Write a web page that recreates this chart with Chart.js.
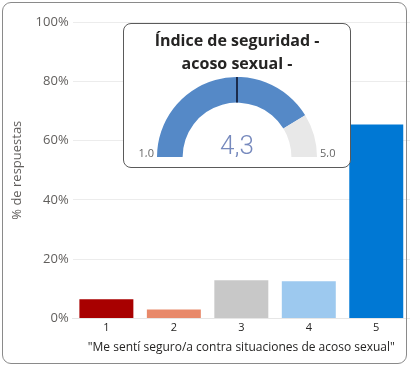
<!DOCTYPE html>
<html>
<head>
<meta charset="utf-8">
<script src="https://cdn.jsdelivr.net/npm/chart.js@4"></script>
<style>
    html, body { margin: 0; padding: 0; background: #fff; }
    #wrap { position: relative; width: 410px; height: 367px; }
    #frame {
        position: absolute; left: 2px; top: 2px; width: 403px; height: 360px;
        border: 1px solid #8a8a8a; border-radius: 9px; pointer-events: none;
    }
    #card {
        position: absolute; left: 123px; top: 23px; width: 226px; height: 143px;
        border: 1px solid #5a5a5a; border-radius: 8px; background: #fff;
    }
    #card-title {
        position: absolute; left: 0; top: 5px; width: 100%; text-align: center;
        font-family: "Open Sans", sans-serif; font-weight: bold; font-size: 16px;
        line-height: 23px; color: #252423;
    }
    #gauge-box { position: absolute; left: 0; top: 53px; width: 226px; height: 80px; }
</style>
</head>
<body>
<div id="wrap">
    <canvas id="barChart" width="410" height="367"></canvas>
    <div id="card">
        <div id="card-title">Índice de seguridad -<br>acoso sexual -</div>
        <div id="gauge-box"><canvas id="gaugeChart"></canvas></div>
    </div>
    <div id="frame"></div>
</div>
<script>
const categories = ['1', '2', '3', '4', '5'];
const responseShare = [6.5, 3.0, 12.9, 12.5, 65.4];
const barColors = ['#a80000', '#e8896a', '#c8c8c8', '#9dc9ef', '#0078d4'];
const yTicks = [0, 20, 40, 60, 80, 100];

const gaugeRange = [1, 5];
const gaugeValue = 4.3;
const gaugeNeedle = 3.0;
const gaugeColors = ['#5589c7', '#e8e8e8'];

const fmt = v => v.toFixed(1).replace('.', ',');

new Chart(document.getElementById('barChart').getContext('2d'), {
    type: 'bar',
    data: {
        labels: categories,
        datasets: [{
            data: responseShare,
            backgroundColor: barColors,
            borderWidth: 0,
            categoryPercentage: 0.8,
            barPercentage: 1
        }]
    },
    options: {
        responsive: false,
        animation: false,
        layout: { padding: { top: 22, right: 0, left: 9, bottom: 12 } },
        plugins: { legend: { display: false }, tooltip: { enabled: false } },
        scales: {
            x: {
                grid: { display: false, drawTicks: false },
                border: { color: '#e6e6e6' },
                ticks: { color: '#252423', font: { family: 'Open Sans', size: 11 }, padding: 3 },
                title: {
                    display: true,
                    text: '"Me sentí seguro/a contra situaciones de acoso sexual"',
                    color: '#252423',
                    font: { family: 'Open Sans', size: 12 },
                    padding: { top: 3, bottom: 0 }
                }
            },
            y: {
                min: 0,
                max: 100,
                afterBuildTicks: axis => { axis.ticks = yTicks.map(v => ({ value: v })); },
                grid: { color: '#ececec', drawTicks: false },
                border: { display: false },
                ticks: {
                    color: '#605e5c',
                    font: { family: 'Open Sans', size: 13 },
                    padding: 4,
                    callback: v => v + '%'
                },
                title: {
                    display: true,
                    text: '% de respuestas',
                    color: '#605e5c',
                    font: { family: 'Open Sans', size: 13 },
                    padding: { top: 0, bottom: 7 }
                }
            }
        }
    }
});

const gaugeText = {
    id: 'gaugeText',
    afterDatasetsDraw(chart) {
        const arc = chart.getDatasetMeta(0).data[0];
        const { x, y, outerRadius, innerRadius } = arc;
        const ctx = chart.ctx;
        // needle
        const frac = (gaugeNeedle - gaugeRange[0]) / (gaugeRange[1] - gaugeRange[0]);
        const ang = Math.PI + frac * Math.PI;
        ctx.save();
        ctx.strokeStyle = '#1b2b4b';
        ctx.lineWidth = 2;
        ctx.beginPath();
        ctx.moveTo(x + Math.cos(ang) * innerRadius, y + Math.sin(ang) * innerRadius);
        ctx.lineTo(x + Math.cos(ang) * outerRadius, y + Math.sin(ang) * outerRadius);
        ctx.stroke();
        // labels
        ctx.fillStyle = '#666';
        ctx.font = '11px "Open Sans"';
        ctx.textBaseline = 'alphabetic';
        ctx.textAlign = 'right';
        ctx.fillText(fmt(gaugeRange[0]), x - outerRadius - 3, y);
        ctx.textAlign = 'left';
        ctx.fillText(fmt(gaugeRange[1]), x + outerRadius + 3, y);
        ctx.textAlign = 'center';
        ctx.fillStyle = '#7689bd';
        ctx.font = '300 26px Roboto';
        ctx.fillText(fmt(gaugeValue), x, y - 3);
        ctx.restore();
    }
};

new Chart(document.getElementById('gaugeChart').getContext('2d'), {
    type: 'doughnut',
    data: {
        datasets: [{
            data: [gaugeValue - gaugeRange[0], gaugeRange[1] - gaugeValue],
            backgroundColor: gaugeColors,
            borderWidth: 0
        }]
    },
    options: {
        responsive: true,
        maintainAspectRatio: false,
        animation: false,
        rotation: -90,
        circumference: 180,
        cutout: '68%',
        plugins: { legend: { display: false }, tooltip: { enabled: false } }
    },
    plugins: [gaugeText]
});
</script>
</body>
</html>
